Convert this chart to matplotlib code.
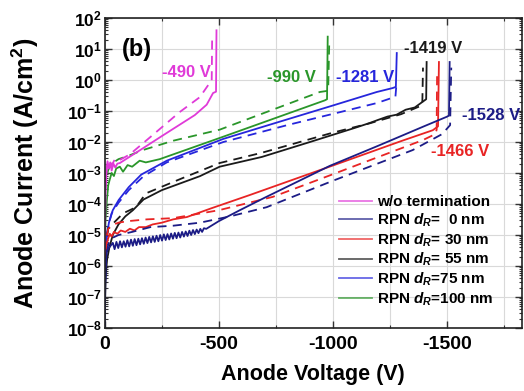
import numpy as np
import matplotlib
matplotlib.use('Agg')
import matplotlib.pyplot as plt
from matplotlib.lines import Line2D
from matplotlib.ticker import MultipleLocator, LogLocator, NullFormatter

plt.rcParams['font.family'] = 'Liberation Sans'
plt.rcParams['font.weight'] = 'bold'
plt.rcParams['axes.unicode_minus'] = False
plt.rcParams['mathtext.fontset'] = 'custom'
plt.rcParams['mathtext.rm'] = 'Liberation Sans:bold'
plt.rcParams['mathtext.it'] = 'Liberation Sans:italic:bold'
plt.rcParams['mathtext.bf'] = 'Liberation Sans:bold'

# ---- data (anode voltage in V, current density in A/cm^2) ----
# w/o termination
v_wo_solid = [0, -3, -8, -12, -18, -24, -30, -38, -46, -55, -66, -150, -250, -395, -447, -475, -488, -490]
j_wo_solid = [3e-6, 2e-4, 1.5e-3, 2.4e-3, 1.4e-3, 2.2e-3, 1.2e-3, 2e-3, 1.5e-3, 2e-3, 2.1e-3,
              5.2e-3, 1.55e-2, 7.4e-2, 0.16, 0.38, 0.42, 40]
v_wo_dash = [0, -3, -10, -20, -30, -45, -60, -110, -200, -329, -417, -460, -469, -471]
j_wo_dash = [1e-5, 6e-4, 1.6e-3, 2.5e-3, 1.8e-3, 2.8e-3, 2.5e-3, 4e-3, 1.45e-2, 9.3e-2, 0.28, 0.8, 0.9, 25]

# RPN dR = 0 nm
v_0_solid = [0, -2, -5, -10, -20, -30,
             -35, -43, -51, -59, -67, -75, -83, -91, -99, -107, -115, -123, -131, -139, -147, -155,
             -163, -171, -179, -187, -195, -203, -211, -219, -227, -235, -243, -251, -259, -267,
             -275, -283, -291, -299, -307, -315, -323, -331, -339, -347, -355, -363, -371, -379,
             -387, -395, -403, -411, -419, -427, -435, -445,
             -500, -592, -700, -987, -1200, -1400, -1500, -1510, -1513]
j_0_solid = [1e-8, 3e-7, 1.6e-6, 3.2e-6, 4e-6, 5e-6,
             5.6e-6, 3.5e-6, 6.0e-6, 3.8e-6, 6.3e-6, 4.0e-6, 6.3e-6, 4.2e-6, 6.8e-6, 4.3e-6, 7.1e-6,
             4.5e-6, 7.4e-6, 4.7e-6, 7.6e-6, 5.0e-6, 7.9e-6, 5.2e-6, 8.3e-6, 5.5e-6, 8.7e-6, 5.8e-6,
             9.1e-6, 6.0e-6, 9.5e-6, 6.3e-6, 1.0e-5, 6.6e-6, 1.05e-5, 6.9e-6, 1.07e-5, 7.2e-6, 1.12e-5,
             7.6e-6, 1.17e-5, 7.9e-6, 1.2e-5, 8.3e-6, 1.26e-5, 8.9e-6, 1.3e-5, 9.3e-6, 1.38e-5, 1.0e-5,
             1.45e-5, 1.07e-5, 1.5e-5, 1.15e-5, 1.58e-5, 1.26e-5, 1.66e-5, 1.58e-5,
             2.8e-5, 6.3e-5, 1.58e-4, 1.7e-3, 7.6e-3, 3.2e-2, 6.5e-2, 7.1e-2, 3.8]
v_0_dash = [0, -5, -15, -30, -60, -120, -200, -300, -417, -550, -710, -1000, -1351, -1480, -1515, -1520]
j_0_dash = [1e-7, 1.6e-6, 5e-6, 7.9e-6, 1e-5, 1.26e-5, 1.8e-5, 2e-5, 2.5e-5, 4e-5, 7.9e-5,
            5.6e-4, 5.5e-3, 1.8e-2, 3.5e-2, 2.5]

# RPN dR = 30 nm
v_30_solid = [0, -3, -8, -15, -22, -30, -40, -55, -70, -90, -110, -130, -150, -180, -210, -250,
              -300, -360, -470, -636, -1000, -1300, -1439, -1462, -1466]
j_30_solid = [3e-7, 2.5e-6, 5e-6, 7.9e-6, 1.1e-5, 8.9e-6, 1.26e-5, 1.1e-5, 1.4e-5, 1.26e-5, 1.6e-5,
              1.4e-5, 1.8e-5, 1.8e-5, 2.2e-5, 2.5e-5, 3.2e-5, 3.8e-5, 7.4e-5, 1.95e-4, 1.74e-3,
              1.07e-2, 2.4e-2, 3.2e-2, 3.8]
v_30_dash = [0, -5, -15, -40, -60, -100, -185, -300, -500, -737, -1000, -1395, -1450, -1456, -1458]
j_30_dash = [1e-6, 6.3e-6, 1.6e-5, 2.2e-5, 2.5e-5, 2.8e-5, 3.2e-5, 3.5e-5, 6.3e-5, 1.7e-4, 9.1e-4,
             1.15e-2, 1.8e-2, 2.5e-2, 2.0]

# RPN dR = 55 nm
v_55_solid = [0, -4, -10, -20, -35, -60, -90, -123, -170, -250, -417, -504, -689, -900, -1100, -1162,
              -1200, -1240, -1280, -1320, -1360, -1395, -1410, -1412]
j_55_solid = [3e-8, 5e-7, 1.6e-6, 4e-6, 1e-5, 2.2e-5, 4e-5, 6.3e-5, 1.4e-4, 2.8e-4, 7.9e-4, 1.6e-3,
              3.3e-3, 1e-2, 2.9e-2, 4.1e-2, 5.2e-2, 6.6e-2, 7.6e-2, 0.11, 0.13, 0.2, 0.24, 3.8]
v_55_dash = [0, -5, -15, -40, -80, -137, -180, -329, -504, -689, -1000, -1162, -1300, -1380, -1393, -1396]
j_55_dash = [1e-6, 6.3e-6, 1.6e-5, 2.5e-5, 5e-5, 7.9e-5, 2.2e-4, 6.3e-4, 2.1e-3, 4.5e-3, 2e-2,
             4e-2, 7.9e-2, 0.14, 0.16, 2.5]

# RPN dR = 75 nm
v_75_solid = [0, -4, -10, -18, -35, -61, -105, -160, -272, -520, -700, -1000, -1193, -1263, -1277, -1281]
j_75_solid = [3e-7, 3e-6, 1e-5, 2.5e-5, 6.3e-5, 1.35e-4, 3.5e-4, 8.9e-4, 2.5e-3, 1.26e-2, 3.2e-2,
              0.15, 0.41, 0.55, 0.6, 7.4]
v_75_dash = [0, -5, -15, -30, -60, -105, -170, -272, -520, -800, -1193, -1250, -1275, -1280]
j_75_dash = [1e-6, 6.3e-6, 2e-5, 5e-5, 1.1e-4, 2.8e-4, 7.9e-4, 2.2e-3, 1e-2, 3.5e-2, 0.18, 0.25, 0.28, 0.8]

# RPN dR = 100 nm
v_100_solid = [0, -3, -9, -15, -22, -30, -40, -50, -66, -80, -100, -120, -153, -180, -241, -504,
               -965, -975, -978]
j_100_solid = [1e-6, 3e-5, 1.3e-4, 4e-4, 6.3e-4, 1e-3, 8e-4, 1.4e-3, 1.6e-3, 1.1e-3, 1.8e-3, 1.6e-3,
               2.5e-3, 2.2e-3, 2.8e-3, 1.35e-2, 0.22, 0.24, 25]
v_100_dash = [0, -5, -15, -30, -60, -100, -167, -300, -504, -943, -980, -985]
j_100_dash = [1e-4, 6.3e-4, 1.26e-3, 2e-3, 2.8e-3, 3.5e-3, 5.5e-3, 1.1e-2, 2.5e-2, 0.41, 0.45, 20]

legend_labels = ['w/o termination', r'RPN $d_R$=  0 nm', r'RPN $d_R$= 30 nm',
                 r'RPN $d_R$= 55 nm', r'RPN $d_R$=75 nm', r'RPN $d_R$=100 nm']
breakdown_labels = ['-490 V', '-1528 V', '-1466 V', '-1419 V', '-1281 V', '-990 V']

colors = ['#e03ad8', '#1c1c86', '#e82424', '#1a1a1a', '#2626dc', '#2a962a']

series = [
    (v_wo_solid, j_wo_solid, v_wo_dash, j_wo_dash),
    (v_0_solid, j_0_solid, v_0_dash, j_0_dash),
    (v_30_solid, j_30_solid, v_30_dash, j_30_dash),
    (v_55_solid, j_55_solid, v_55_dash, j_55_dash),
    (v_75_solid, j_75_solid, v_75_dash, j_75_dash),
    (v_100_solid, j_100_solid, v_100_dash, j_100_dash),
]

fig = plt.figure(figsize=(5.24, 3.91), dpi=100)
ax = fig.add_axes([0.200, 0.161, 0.796, 0.793])

for (vs, js, vd, jd), c in zip(series[::-1], colors[::-1]):
    ax.plot(vd, jd, color=c, lw=1.3, ls=(0, (5, 3.5)))
    ax.plot(vs, js, color=c, lw=1.3)

ax.set_yscale('log')
ax.set_ylim(1e-8, 1e2)
ax.set_xlim(0, -1830)
ax.set_xticks([0, -500, -1000, -1500])
ax.xaxis.set_minor_locator(MultipleLocator(250))
ax.yaxis.set_major_locator(LogLocator(base=10, numticks=20))
ax.yaxis.set_minor_locator(LogLocator(base=10, subs=np.arange(2, 10), numticks=20))
ax.yaxis.set_minor_formatter(NullFormatter())

ax.grid(True, which='major', color='#d9d9d9', lw=0.8)
ax.grid(True, which='minor', axis='x', color='#d9d9d9', lw=0.8)
ax.set_axisbelow(True)

ax.tick_params(which='both', direction='in', top=True, right=True, color='#333333')
ax.tick_params(which='major', length=5, width=1.0)
ax.tick_params(which='minor', length=2.5, width=0.8)
ax.tick_params(axis='x', labelsize=14, pad=6)
ax.tick_params(axis='y', labelsize=12.5, pad=2)
for s in ax.spines.values():
    s.set_linewidth(1.2)
    s.set_color('#222222')

ax.set_xlabel('Anode Voltage (V)', fontsize=15.5, fontweight='bold')
ax.set_ylabel('Anode Current (A/cm$^2$)', fontsize=18, fontweight='bold')
ax.xaxis.set_label_coords(0.5, -0.115)
ax.yaxis.set_label_coords(-0.152, 0.5)

ax.text(-140, 9.3, '(b)', fontsize=17, fontweight='bold', ha='center', va='center')
label_pos = [(-360, 1.8), (-1693, 0.074), (-1561, 4.8e-3), (-1439, 10.7), (-1140, 1.16), (-820, 1.16)]
for txt, (x, y), c in zip(breakdown_labels, label_pos, colors):
    ax.text(x, y, txt, color=c, fontsize=12, fontweight='bold', ha='center', va='center')

handles = [Line2D([], [], color=c, lw=1.3, alpha=0.7) for c in colors]
ax.legend(handles, legend_labels, loc='center left', bbox_to_anchor=(0.561, 0.247),
          frameon=False, fontsize=11, handlelength=2.2, handletextpad=0.3,
          labelspacing=0.15, borderpad=0, borderaxespad=0)

fig.savefig('out.png', dpi=100)
